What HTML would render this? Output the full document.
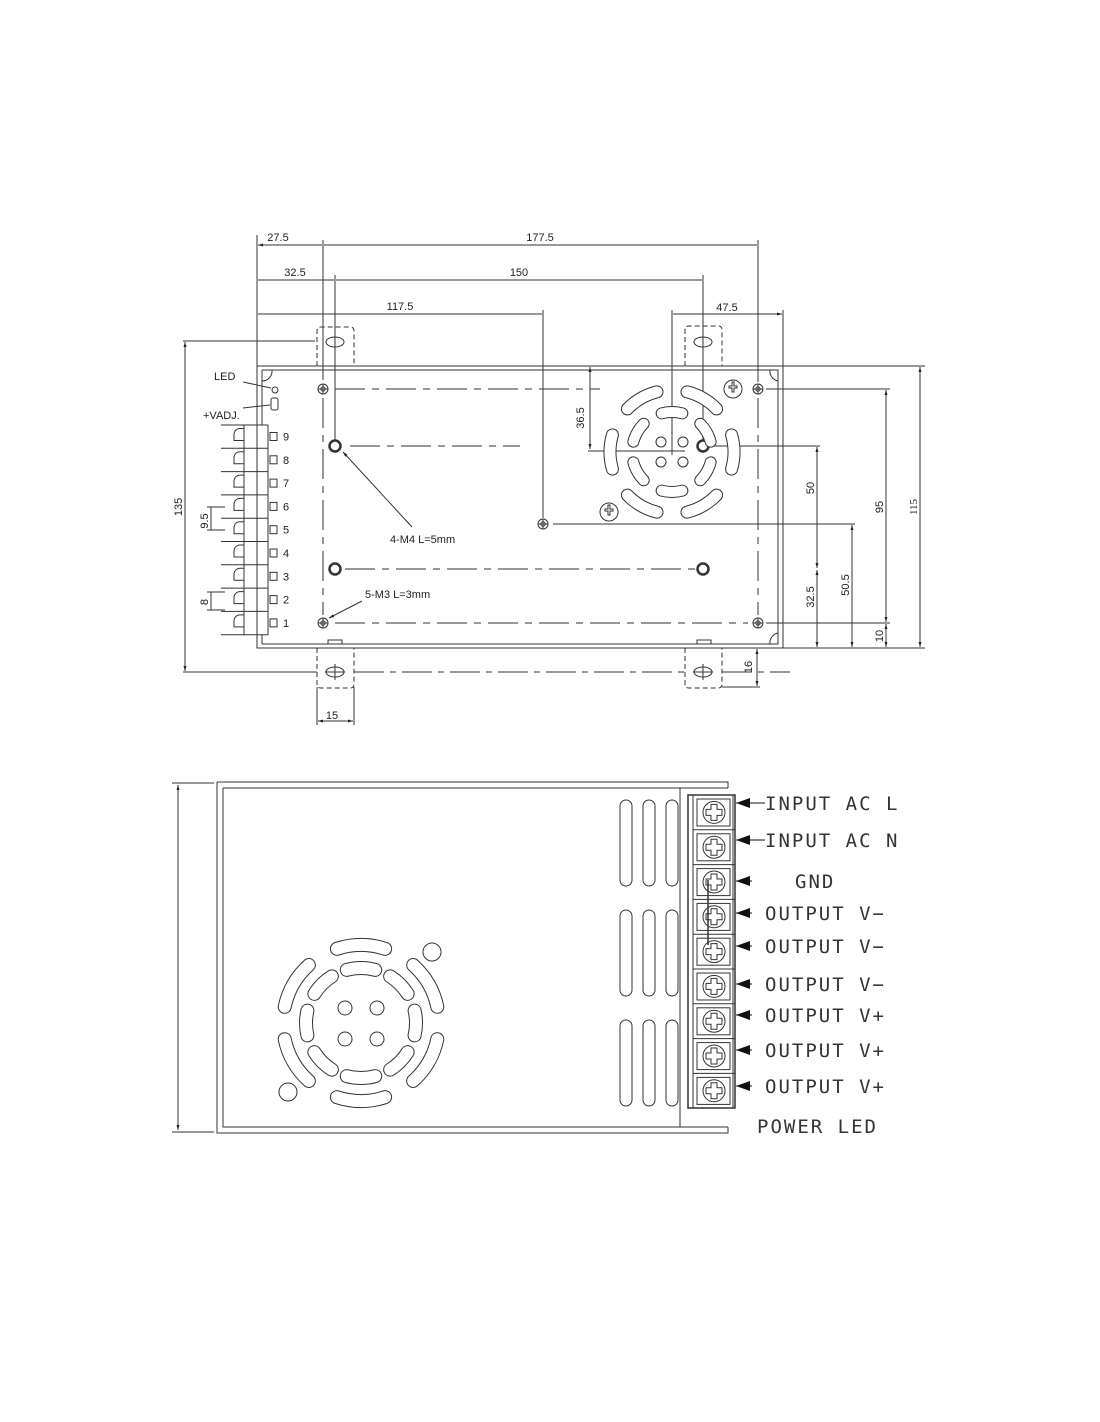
<!DOCTYPE html>
<html><head><meta charset="utf-8"><style>
html,body{margin:0;padding:0;background:#fff;}
svg{display:block;}
text{font-family:"Liberation Sans",sans-serif;fill:#222;}
.m{font-family:"DejaVu Sans Mono","Liberation Mono",monospace;fill:#333;font-size:19px;letter-spacing:2px;}
</style></head><body>
<svg id="s" width="1100" height="1422" viewBox="0 0 1100 1422" xmlns="http://www.w3.org/2000/svg">
<defs>
<marker id="a" viewBox="0 0 10 10" refX="10" refY="5" markerWidth="7" markerHeight="5" orient="auto-start-reverse"><path d="M0,2 L10,5 L0,8z" fill="#222"/></marker>
<marker id="b" viewBox="0 0 14 10" refX="14" refY="5" markerUnits="userSpaceOnUse" markerWidth="14" markerHeight="10" orient="auto"><path d="M0,0 L14,5 L0,10z" fill="#111"/></marker>
</defs>
<g stroke="#333" stroke-width="1" fill="none">
<!-- ===== TOP VIEW ===== -->
<path d="M257,235V366 M323,240V380 M335,275V440 M543,310V518 M703,275V440 M758,240V382 M783,310V366 M672,310V455"/>
<path d="M258,245H322 M324,245H757 M258,280H334 M336,280H702 M258,314H542 M673,314H782" marker-start="url(#a)" marker-end="url(#a)"/>
<rect x="257" y="366" width="526" height="282"/>
<path d="M262,370H778V644H262 M262,370V425 M262,635V644"/>
<path d="M262,381 a10,10 0 0 0 10,-11 M778,381 a10,10 0 0 1 -8,-11 M778,633 a10,10 0 0 0 -8,11"/>
<path d="M328,644v-4h14v4 M697,644v-4h14v4"/>
<g stroke-dasharray="5,3">
<path d="M317,366V331q0,-4 4,-4h29q4,0 4,4V366 M685,366V330q0,-4 4,-4h29q4,0 4,4V366"/>
<path d="M317,648V684q0,4 4,4h29q4,0 4,-4V648 M685,648V684q0,4 4,4h29q4,0 4,-4V648"/>
</g>
<ellipse cx="335" cy="342" rx="9" ry="5"/><ellipse cx="703" cy="342" rx="9" ry="5"/>
<ellipse cx="335" cy="672" rx="9" ry="5"/><ellipse cx="703" cy="672" rx="9" ry="5"/>
<path d="M335,334V350 M703,334V350 M335,664V680 M703,664V680 M325,672H345 M693,672H713"/>
<path d="M183,341H315 M183,672H317"/>
<path d="M185,342V671" marker-start="url(#a)" marker-end="url(#a)"/>
<path d="M354,672H685 M722,672H790" stroke-dasharray="30,6,6,6"/>
<g stroke-dasharray="30,7,7,7">
<path d="M335,389H600 M350,446H520 M345,569H695 M335,623H748 M323,398V615 M758,398V615"/>
</g>
<path d="M553,524H855 M712,446H820 M766,389H890 M766,623H890 M783,366H925 M783,648H925 M722,687H760 M354,687V725 M317,687V725"/>
<path d="M817,447V568" marker-start="url(#a)" marker-end="url(#a)"/>
<path d="M817,570V647" marker-start="url(#a)" marker-end="url(#a)"/>
<path d="M852,525V647" marker-start="url(#a)" marker-end="url(#a)"/>
<path d="M886,390V622" marker-start="url(#a)" marker-end="url(#a)"/>
<path d="M886,624V647" marker-start="url(#a)" marker-end="url(#a)"/>
<path d="M920,367V647" marker-start="url(#a)" marker-end="url(#a)"/>
<path d="M590,367V449" marker-start="url(#a)" marker-end="url(#a)"/>
<path d="M588,451H685"/>
<path d="M757,649V686" marker-start="url(#a)" marker-end="url(#a)"/>
<path d="M318,721H353" marker-start="url(#a)" marker-end="url(#a)"/>
<g>
<circle cx="323" cy="389" r="5"/><circle cx="323" cy="389" r="2.2"/>
<circle cx="758" cy="389" r="5"/><circle cx="758" cy="389" r="2.2"/>
<circle cx="323" cy="623" r="5"/><circle cx="323" cy="623" r="2.2"/>
<circle cx="758" cy="623" r="5"/><circle cx="758" cy="623" r="2.2"/>
<circle cx="543" cy="524" r="5"/><circle cx="543" cy="524" r="2.2"/>
</g>
<g stroke-width="2.5">
<circle cx="335" cy="446" r="5.5"/><circle cx="703" cy="446" r="5.5"/>
<circle cx="335" cy="569" r="5.5"/><circle cx="703" cy="569" r="5.5"/>
</g>
<path d="M318,389h10 M323,384v10 M753,389h10 M758,384v10 M318,623h10 M323,618v10 M753,623h10 M758,618v10 M538,524h10 M543,519v10"/>
<g id="fan1"></g>
<circle cx="661" cy="442" r="5"/><circle cx="683" cy="442" r="5"/><circle cx="661" cy="462" r="5"/><circle cx="683" cy="462" r="5"/>
<circle cx="733" cy="389" r="9"/><path d="M729,386h3v-4h2v4h3v2h-3v4h-2v-4h-3z"/>
<circle cx="609" cy="512" r="9"/><path d="M605,509h3v-4h2v4h3v2h-3v4h-2v-4h-3z"/>
<path d="M412,527L343,452" marker-end="url(#a)"/>
<path d="M362,601L329,618" marker-end="url(#a)"/>
<path d="M243,382L271,388 M243,408L270,405"/>
<circle cx="275" cy="390" r="3"/><rect x="271" y="398" width="7" height="12" rx="2"/>
<path d="M244,425V635 M257,425V635 M268,425V635"/>
<g id="tb"></g>
<path d="M211,507V530 M211,592V610 M207,507h18 M207,530h18 M207,592h18 M207,610h18"/>
<!-- ===== SIDE VIEW ===== -->
<path d="M172,783H214 M172,1132H214"/>
<path d="M178,785V1130" marker-start="url(#a)" marker-end="url(#a)"/>
<path d="M217,782H728V788 M217,782V1133H728V1127 M223,788H728 M223,788V1127H728 M680,788V1127"/>
<g id="vents"></g>
<g id="fan2"></g>
<circle cx="345" cy="1008" r="7"/><circle cx="377" cy="1008" r="7"/><circle cx="345" cy="1039" r="7"/><circle cx="377" cy="1039" r="7"/>
<circle cx="432" cy="952" r="9"/><circle cx="288" cy="1092" r="9"/>
<rect x="688" y="795" width="47" height="313" stroke-width="1.5"/>
<rect x="693" y="795" width="40" height="313"/>
<g id="tb2"></g>
<path d="M708,880V945" stroke-width="1.5"/>
</g>
<g font-size="11">
<text x="278" y="241" text-anchor="middle">27.5</text>
<text x="540" y="241" text-anchor="middle">177.5</text>
<text x="295" y="276" text-anchor="middle">32.5</text>
<text x="519" y="276" text-anchor="middle">150</text>
<text x="400" y="310" text-anchor="middle">117.5</text>
<text x="727" y="311" text-anchor="middle">47.5</text>
<text x="214" y="380">LED</text>
<text x="203" y="419">+VADJ.</text>
<text x="390" y="543">4-M4 L=5mm</text>
<text x="365" y="598">5-M3 L=3mm</text>
<text x="332" y="719" text-anchor="middle">15</text>
<text transform="translate(182,507) rotate(-90)" text-anchor="middle">135</text>
<text transform="translate(208,521) rotate(-90)" text-anchor="middle">9.5</text>
<text transform="translate(208,602) rotate(-90)" text-anchor="middle">8</text>
<text transform="translate(584,418) rotate(-90)" text-anchor="middle">36.5</text>
<text transform="translate(814,488) rotate(-90)" text-anchor="middle">50</text>
<text transform="translate(814,597) rotate(-90)" text-anchor="middle">32.5</text>
<text transform="translate(849,585) rotate(-90)" text-anchor="middle">50.5</text>
<text transform="translate(883,507) rotate(-90)" text-anchor="middle">95</text>
<text transform="translate(883,636) rotate(-90)" text-anchor="middle">10</text>
<text transform="translate(917,507) rotate(-90)" text-anchor="middle" style="font-family:'Liberation Serif',serif">115</text>
<text transform="translate(752,667) rotate(-90)" text-anchor="middle">16</text>
<g id="nums"></g>
</g>
<g id="lbl"></g>
</svg>
<script>
(function(){
var NS="http://www.w3.org/2000/svg";
function el(p,t,a,txt){var e=document.createElementNS(NS,t);for(var k in a)e.setAttribute(k,a[k]);if(txt)e.textContent=txt;document.getElementById(p).appendChild(e);return e;}
function arc(cx,cy,r,a0,a1){var r0=a0*Math.PI/180,r1=a1*Math.PI/180;return "M"+(cx+r*Math.cos(r0))+","+(cy+r*Math.sin(r0))+" A"+r+","+r+" 0 0 1 "+(cx+r*Math.cos(r1))+","+(cy+r*Math.sin(r1));}
function slot(p,cx,cy,r,ang,span,w){var d=arc(cx,cy,r,ang-span/2,ang+span/2);el(p,"path",{d:d,stroke:"#333","stroke-width":w+2,"stroke-linecap":"round"});el(p,"path",{d:d,stroke:"#fff","stroke-width":w,"stroke-linecap":"round"});}
[0,60,120,180,240,300].forEach(function(a){slot("fan1",672,452,62,a,32,11);});
[30,90,150,210,270,330].forEach(function(a){slot("fan1",672,452,40,a,30,10);});
[30,90,150,210,270,330].forEach(function(a){slot("fan2",361,1023,78,a,36,12);});
[0,45,135,180,225,315].forEach(function(a){slot("fan2",361,1023,55,a,26,12);});
slot("fan2",361,1023,55,90,30,12);slot("fan2",361,1023,55,270,30,12);
[800,910,1020].forEach(function(y){[626,649,672].forEach(function(x){el("vents","rect",{x:x-6,y:y,width:12,height:86,rx:6});});});
for(var i=0;i<10;i++){var y=425+i*23.3;el("tb","path",{d:"M221,"+y+"H268"});}
for(var i=0;i<9;i++){var yc=436.5+i*23.3;el("tb","path",{d:"M244,"+(yc-8)+"h-4a6,6 0 0 0 -6,6v6h10"});el("tb","rect",{x:270,y:yc-4,width:7,height:8});
el("nums","text",{x:283,y:yc+4},String(9-i));}
var labels=["INPUT AC L","INPUT AC N","GND","OUTPUT V−","OUTPUT V−","OUTPUT V−","OUTPUT V+","OUTPUT V+","OUTPUT V+"];
var ys=[803,840,881,913,946,984,1015,1050,1086];
for(var i=0;i<9;i++){var ty=795+i*34.8;el("tb2","path",{d:"M693,"+ty+"H735"});el("tb2","rect",{x:697,y:ty+4,width:33,height:27});
var cy=ty+17.4;el("tb2","circle",{cx:714,cy:cy,r:11});el("tb2","path",{d:"M711,"+(cy-8)+"h6v5h5v6h-5v5h-6v-5h-5v-6h5z"});
var ly=ys[i];el("tb2","path",{d:"M"+(i<2?765:752)+","+ly+"H736",stroke:"#111","marker-end":"url(#b)"});
el("lbl","text",{x:i==2?795:765,y:ly+7,"class":"m"},labels[i]);}
el("lbl","text",{x:757,y:1133,"class":"m"},"POWER LED");
})();
</script>
</body></html>
